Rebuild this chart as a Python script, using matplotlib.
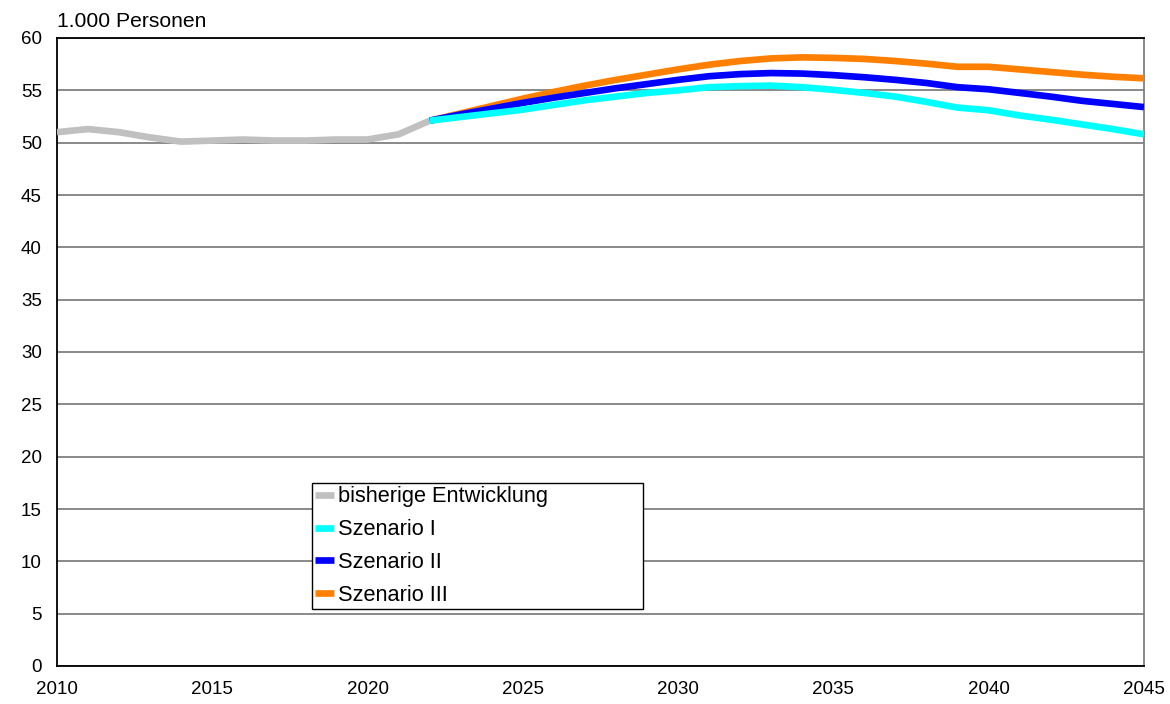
import numpy as np
import matplotlib
matplotlib.use("Agg")
import matplotlib.pyplot as plt

plt.rcParams["font.family"] = ["Liberation Sans", "DejaVu Sans"]

# Bisherige Entwicklung 2010-2022 (1.000 Personen)
years_hist = list(range(2010, 2023))
hist = [51.0, 51.3, 51.0, 50.5, 50.1, 50.2, 50.3, 50.2, 50.2, 50.3, 50.3, 50.8, 52.1]

# Vorausberechnung 2022-2045
years_proj = list(range(2022, 2046))
szenario_1 = [52.1, 52.45, 52.8, 53.15, 53.6, 54.05, 54.4, 54.75, 55.0, 55.3, 55.4, 55.45,
              55.3, 55.05, 54.75, 54.4, 53.9, 53.35, 53.1, 52.6, 52.2, 51.75, 51.3, 50.8]
szenario_2 = [52.1, 52.7, 53.25, 53.8, 54.3, 54.75, 55.2, 55.6, 56.0, 56.35, 56.55, 56.65,
              56.6, 56.45, 56.25, 56.0, 55.7, 55.3, 55.1, 54.75, 54.4, 54.0, 53.7, 53.4]
szenario_3 = [52.1, 52.8, 53.5, 54.2, 54.85, 55.45, 56.0, 56.5, 57.0, 57.45, 57.8, 58.05,
              58.15, 58.1, 58.0, 57.8, 57.55, 57.25, 57.25, 57.0, 56.75, 56.5, 56.3, 56.15]

labels = ["bisherige Entwicklung", "Szenario I", "Szenario II", "Szenario III"]
colors = ["#C0C0C0", "#00FFFF", "#0000FF", "#FF8000"]

fig = plt.figure(figsize=(11.7, 7.04), dpi=100)
ax = fig.add_axes([57 / 1170, 1 - 666 / 704, (1144 - 57) / 1170, (666 - 38) / 704])

lw = 4.8
l0, = ax.plot(years_hist, hist, color=colors[0], lw=lw, solid_capstyle="butt", zorder=3)
l3, = ax.plot(years_proj, szenario_3, color=colors[3], lw=lw, solid_capstyle="butt", zorder=4)
l2, = ax.plot(years_proj, szenario_2, color=colors[2], lw=lw, solid_capstyle="butt", zorder=5)
l1, = ax.plot(years_proj, szenario_1, color=colors[1], lw=lw, solid_capstyle="butt", zorder=6)

ax.set_xlim(2010, 2045)
ax.set_ylim(0, 60)
ax.set_xticks(range(2010, 2046, 5))
ax.set_yticks(range(0, 61, 5))
ax.tick_params(axis="both", length=0, labelsize=13.5)
ax.tick_params(axis="y", pad=11)
ax.tick_params(axis="x", pad=11)

ax.grid(axis="y", color="#808080", lw=1.3, zorder=1)
ax.set_axisbelow(True)
for side in ["left", "bottom", "top"]:
    ax.spines[side].set_color("#000000")
    ax.spines[side].set_linewidth(1.3)
ax.spines["right"].set_color("#808080")
ax.spines["right"].set_linewidth(1.3)

fig.text(57 / 1170, 1 - 27 / 704, "1.000 Personen", fontsize=15.2, ha="left", va="baseline")

leg = ax.legend([l0, l1, l2, l3], labels,
                loc="lower left", mode="expand",
                bbox_to_anchor=((312 - 57) / 1087, (666 - 609) / 628, 331 / 1087, 126 / 628),
                borderaxespad=0, fontsize=15.7, handlelength=0.85, handletextpad=0.2,
                labelspacing=0.54, borderpad=0.15, fancybox=False, framealpha=1,
                edgecolor="#000000")
leg.get_frame().set_linewidth(1.0)
leg.set_zorder(10)

fig.savefig("out.png", dpi=100)
